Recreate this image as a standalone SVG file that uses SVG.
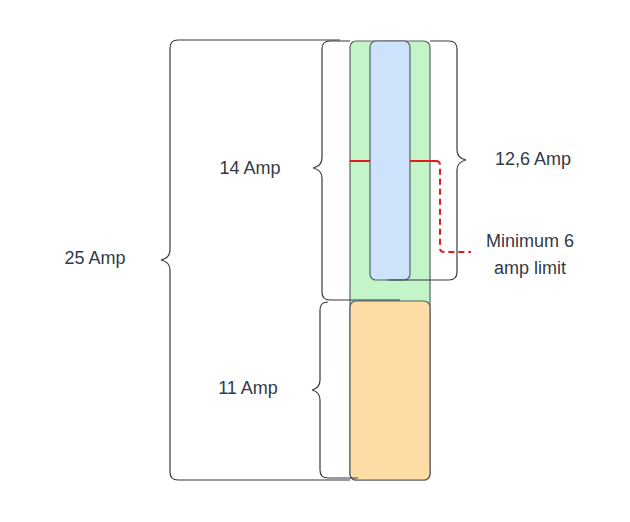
<svg xmlns="http://www.w3.org/2000/svg" width="630" height="522" viewBox="0 0 630 522">
<style>
.br{fill:none;stroke:#333a45;stroke-width:1.2}
.t{font-family:"Liberation Sans",Arial,sans-serif;font-size:18px;fill:#333a45}
.box{stroke:#5a6068;stroke-width:1.2}
</style>
<rect width="630" height="522" fill="#fff"/>
<g id="green"><rect class="box" x="350" y="41" width="80" height="439" rx="6" fill="#c3f5c9"/></g>
<g id="blue"><rect class="box" x="370" y="41" width="40" height="239" rx="6" fill="#cde3fb"/></g>
<g id="orange"><rect class="box" x="350" y="301" width="80" height="179" rx="6" fill="#fddca6"/></g>
<g id="connectors">
<path d="M350 161H370M410 161H436" stroke="#e01b1b" stroke-width="2" fill="none"/>
<path d="M436 161Q440 161 440 165V248Q440 252 444 252H471" stroke="#e01b1b" stroke-width="2" stroke-dasharray="6,4" fill="none"/>
<path class="br" d="M340 40H178Q170 40 170 48V250Q170 258 161 260Q170 262 170 270V472Q170 480 178 480H350"/>
<path class="br" d="M350 41H330Q322 41 322 49V158Q322 166 313 168Q322 170 322 178V292Q322 300 330 300H400"/>
<path class="br" d="M320 302Q312 302 312 310V380Q312 388 304 390Q312 392 312 400V470Q312 478 320 478H350" transform="translate(8,0)"/>
<path class="br" d="M430 41H449Q457 41 457 49V150Q457 158 466 160Q457 162 457 170V272Q457 280 449 280H388"/>
</g>
<g id="labels">
<text class="t" x="250" y="174" text-anchor="middle">14 Amp</text>
<text class="t" x="95" y="264" text-anchor="middle">25 Amp</text>
<text class="t" x="248" y="394" text-anchor="middle">11 Amp</text>
<text class="t" x="533" y="165" text-anchor="middle">12,6 Amp</text>
<text class="t" x="530" y="247" text-anchor="middle">Minimum 6</text>
<text class="t" x="530" y="274" text-anchor="middle">amp limit</text>
</g>
</svg>
